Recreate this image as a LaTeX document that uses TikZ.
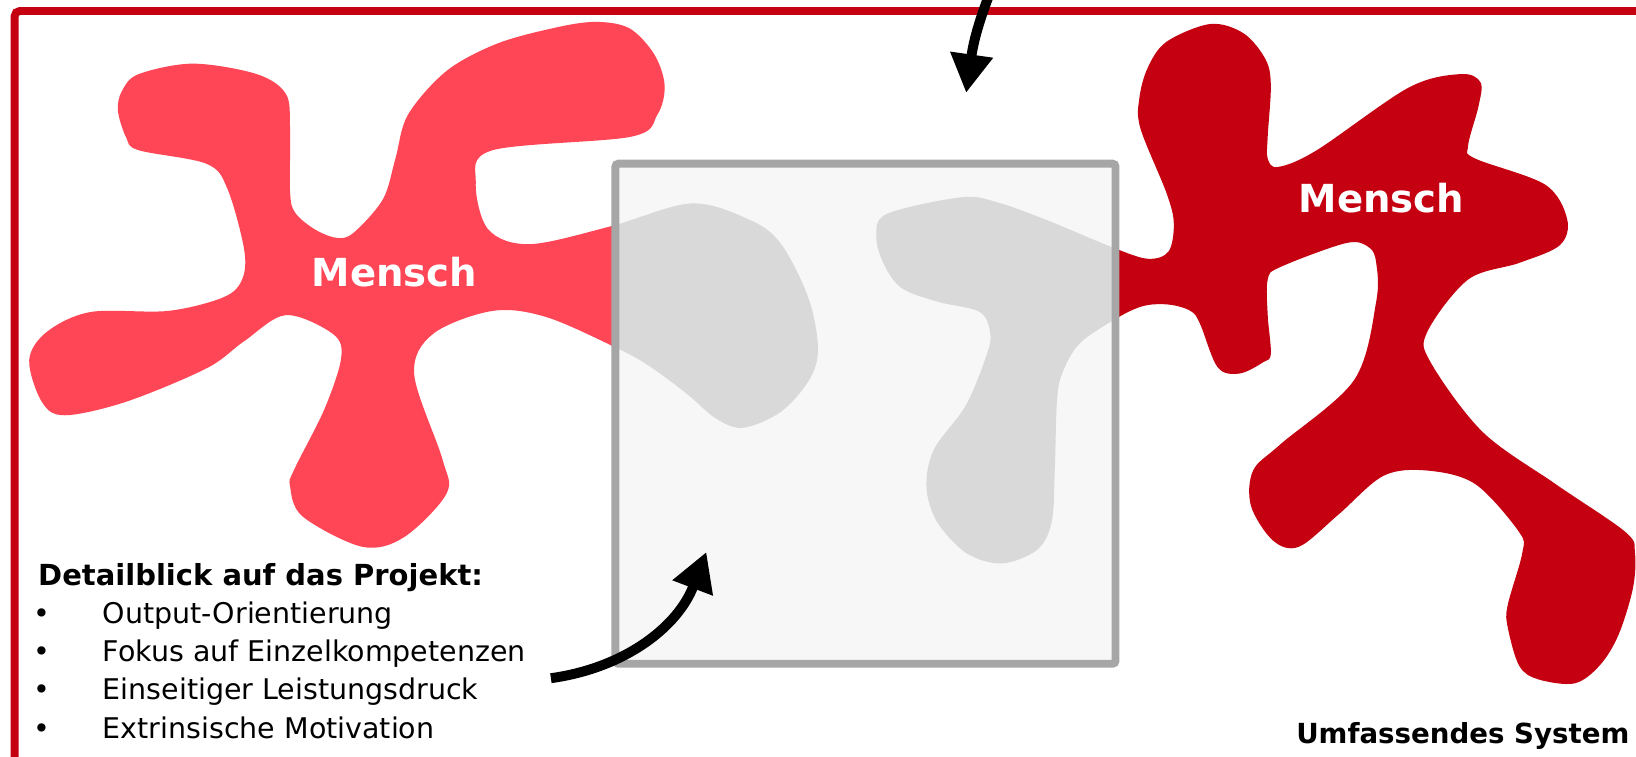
\documentclass[tikz,border=0pt]{standalone}
\usepackage{fontspec}
\setmainfont{DejaVu Sans}
\usetikzlibrary{arrows.meta}

\definecolor{rahmenrot}{RGB}{196,0,17}
\definecolor{menschhell}{RGB}{255,70,86}
\definecolor{menschdunkel}{RGB}{196,0,17}
\definecolor{lupenrand}{RGB}{166,166,166}
\definecolor{lupenfuellung}{RGB}{247,247,247}
\definecolor{lupenschatten}{RGB}{217,217,217}

% Umrisse der beiden Menschen (Bildpunkte, y nach unten)
\newcommand{\formlinks}{plot[smooth cycle, tension=0.55] coordinates {
  (185,61) (246,71) (274,90) (278,123) (278,184) (283,204) (302,220) (323,228)
  (339,223) (367,191) (379,152) (391,110) (428,68) (476,42) (530,27) (570,21)
  (603,27) (627,52) (637,82) (630,110) (605,131) (472,144) (456,175) (468,220)
  (508,234) (585,217) (662,195) (717,210) (748,233) (775,286) (784,335) (775,365)
  (748,395) (712,410) (686,401) (659,378) (624,352) (594,335) (524,304) (472,298)
  (415,320) (397,359) (424,440) (428,473) (387,515) (347,524) (290,495) (278,466)
  (282,450) (311,392) (327,343) (319,320) (274,302) (234,327) (198,353) (121,385)
  (62,398) (40,385) (28,345) (45,318) (87,299) (161,298) (214,285) (232,268)
  (234,239) (218,181) (198,157) (133,144) (121,132) (113,106) (117,87) (133,71)}}
\newcommand{\formrechts}{plot[smooth cycle, tension=0.55] coordinates {
  (850,205) (922,189) (956,194) (1001,210) (1066,237) (1100,248) (1120,241)
  (1125,214) (1118,185) (1093,123) (1092,94) (1100,65) (1118,40) (1160,23)
  (1192,32) (1213,57) (1218,82) (1215,131) (1215,152) (1225,160) (1262,144)
  (1350,84) (1400,71) (1419,79) (1417,102) (1407,140) (1414,152) (1481,177)
  (1502,210) (1495,235) (1456,252) (1407,268) (1368,318) (1371,347) (1421,414)
  (1491,464) (1558,510) (1567,530) (1565,564) (1551,609) (1533,638) (1509,655)
  (1474,651) (1456,638) (1445,601) (1445,580) (1459,530) (1456,510) (1414,464)
  (1368,451) (1326,456) (1283,493) (1245,524) (1220,518) (1199,485) (1201,451)
  (1227,426) (1298,364) (1319,289) (1319,252) (1312,237) (1290,233) (1227,256)
  (1215,268) (1215,302) (1218,339) (1211,347) (1188,358) (1167,352) (1150,310)
  (1141,298) (1121,292) (1097,293) (1072,304) (1035,329) (1018,358) (1013,385)
  (1011,448) (1008,500) (994,527) (960,540) (926,530) (898,500) (888,467)
  (895,431) (926,388) (946,339) (949,319) (939,299) (898,289) (864,276)
  (847,253) (840,227)}}

\begin{document}
\begin{tikzpicture}[x=1pt, y=-1pt,
  lupe/.style={draw=lupenrand, line width=7.5pt, rounded corners=3pt},
  pfeil/.style={-{Triangle[length=37pt, width=39pt]}, line width=9.5pt, black},
  mensch/.style={text=white, font=\bfseries\fontsize{37}{37}\selectfont, inner sep=0pt, anchor=base},
  kopf/.style={font=\bfseries\fontsize{27.8}{33}\selectfont, inner sep=0pt, anchor=base west},
  eintrag/.style={font=\fontsize{27.3}{33}\selectfont, inner sep=0pt, anchor=base west},
]
\useasboundingbox (0,0) rectangle (1568,725);
\fill[white] (0,0) rectangle (1568,725);

% === RAHMEN ===
\draw[rahmenrot, line width=7.5pt, rounded corners=5pt] (14,10.5) rectangle (1640,780);

% === MENSCHEN ===
\fill[menschhell] \formlinks;
\fill[menschdunkel] \formrechts;
\node[mensch] (menschA) at (378,275) {Mensch};
\node[mensch] (menschB) at (1324,204) {Mensch};

% === DETAILBLICK ===
\node[fill=lupenfuellung, inner sep=0pt, minimum width=479pt, minimum height=479pt] (lupe) at (829.5,396.5) {};
\begin{scope}
  \clip (lupe.south west) rectangle (lupe.north east);
  \fill[lupenschatten] \formlinks;
  \fill[lupenschatten] \formrechts;
\end{scope}
\draw[lupe] (lupe.south west) rectangle (lupe.north east);

% === TEXTE ===
\node[kopf] (titel) at (36.4,560.7) {Detailblick auf das Projekt:};
\node[eintrag] (b1) at (32,597.4) {•};
\node[eintrag] (b2) at (32,634.1) {•};
\node[eintrag] (b3) at (32,670.8) {•};
\node[eintrag] (b4) at (32,707.5) {•};
\node[eintrag] (e1) at (98.4,597.4) {Output-Orientierung};
\node[eintrag] (e2) at (98.4,634.1) {Fokus auf Einzelkompetenzen};
\node[eintrag] (e3) at (98.4,670.8) {Einseitiger Leistungsdruck};
\node[eintrag] (e4) at (98.4,707.5) {Extrinsische Motivation};
\node[kopf, font=\bfseries\fontsize{26.5}{30}\selectfont, anchor=base] (system) at (1402,712.4) {Umfassendes System};

% === PFEILE ===
\coordinate (obenstart) at (952,-15);
\coordinate (obenspitze) at (926,89);
\coordinate (untenstart) at (528,650);
\coordinate (untenspitze) at (677,529);
\draw[pfeil] (obenstart) .. controls (938,20) and (933,40) .. (obenspitze);
\draw[pfeil] (untenstart) .. controls (600,640) and (650,600) .. (untenspitze);
\end{tikzpicture}
\end{document}
